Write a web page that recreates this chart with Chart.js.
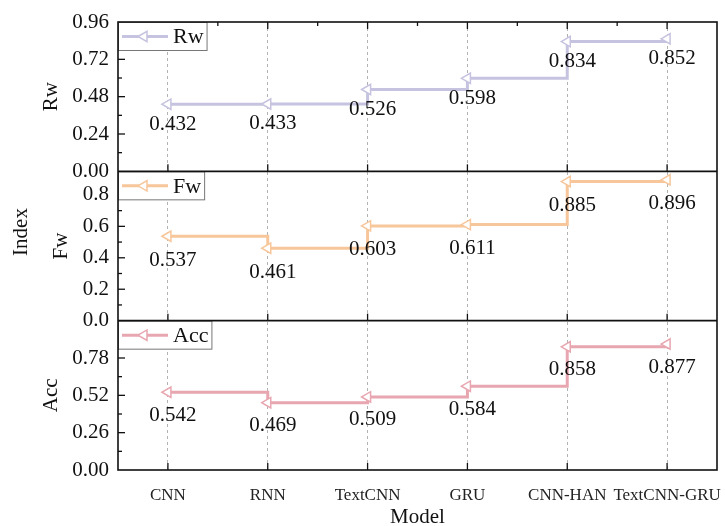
<!DOCTYPE html>
<html>
<head>
<meta charset="utf-8">
<script src="https://cdn.jsdelivr.net/npm/chart.js@4/dist/chart.umd.min.js"></script>
<style>
html,body{margin:0;padding:0;background:#fff;}
#wrap{width:725px;height:526px;}
</style>
</head>
<body>
<div id="wrap"><canvas id="c" width="725" height="526"></canvas></div>
<script>
// ---- data ----
const categories = ['CNN', 'RNN', 'TextCNN', 'GRU', 'CNN-HAN', 'TextCNN-GRU'];
const rwValues  = [0.432, 0.433, 0.526, 0.598, 0.834, 0.852];
const fwValues  = [0.537, 0.461, 0.603, 0.611, 0.885, 0.896];
const accValues = [0.542, 0.469, 0.509, 0.584, 0.858, 0.877];
const rwTicks  = [0, 0.24, 0.48, 0.72, 0.96];
const fwTicks  = [0, 0.2, 0.4, 0.6, 0.8];
const accTicks = [0, 0.26, 0.52, 0.78];
const rwRange  = [0, 0.96];
const fwRange  = [0, 0.95];
const accRange = [0, 1.04];
const xTitle = 'Model';
const yTitle = 'Index';

// ---- styles ----
const SERIF = "'Liberation Serif', 'Times New Roman', serif";
const TEXT = '#111';
const panels = [
  {axis: 'yRw',  label: 'Rw',  values: rwValues,  ticks: rwTicks,  range: rwRange,  dec: 2, color: '#c5c3df', titlePad: 39, labelDy: 20},
  {axis: 'yFw',  label: 'Fw',  values: fwValues,  ticks: fwTicks,  range: fwRange,  dec: 1, color: '#f7c69a', titlePad: 49, labelDy: 24},
  {axis: 'yAcc', label: 'Acc', values: accValues, ticks: accTicks, range: accRange, dec: 2, color: '#e8a6b0', titlePad: 39, labelDy: 23}
];

function yScale(p) {
  return {
    type: 'linear', position: 'left', stack: 'panels', stackWeight: 1,
    min: p.range[0], max: p.range[1],
    afterBuildTicks(s) { s.ticks = p.ticks.map(v => ({value: v})); },
    ticks: {autoSkip: false, padding: 9, color: TEXT, font: {family: SERIF, size: 21},
            callback: v => Number(v).toFixed(p.dec)},
    grid: {display: false, drawTicks: false},
    border: {display: false},
    title: {display: true, text: p.label, color: TEXT, font: {family: SERIF, size: 21},
            padding: {top: p.titlePad, bottom: 0}},
    afterFit(s) { s.width = 118; s.paddingTop = 0; s.paddingBottom = 0; }
  };
}

const datasets = panels.map(p => ({
  label: p.label, data: p.values, yAxisID: p.axis,
  stepped: 'before', fill: false, tension: 0,
  borderColor: p.color, borderWidth: 3,
  pointStyle: 'triangle', pointRotation: -90, pointRadius: 6, pointHoverRadius: 6,
  pointBackgroundColor: '#ffffff', pointBorderColor: p.color, pointBorderWidth: 1.5
}));

function seg(ctx, x1, y1, x2, y2) { ctx.beginPath(); ctx.moveTo(x1, y1); ctx.lineTo(x2, y2); ctx.stroke(); }

function leftTri(ctx, x, y, r) {
  ctx.beginPath();
  ctx.moveTo(x - r, y);
  ctx.lineTo(x + r / 2, y - r * 0.866);
  ctx.lineTo(x + r / 2, y + r * 0.866);
  ctx.closePath();
}

const panelPlugin = {
  id: 'panelDecor',
  afterDatasetsDraw(chart) {
    const ctx = chart.ctx, ca = chart.chartArea, xs = chart.scales.x;
    const n = categories.length;
    ctx.save();
    // data labels
    ctx.fillStyle = TEXT;
    ctx.font = '21px ' + SERIF;
    ctx.textAlign = 'center';
    ctx.textBaseline = 'middle';
    panels.forEach((p, di) => {
      const meta = chart.getDatasetMeta(di);
      meta.data.forEach((pt, j) => {
        ctx.fillText(p.values[j].toFixed(3), pt.x + 5, pt.y + p.labelDy);
      });
    });
    // inward tick marks
    ctx.strokeStyle = '#111';
    ctx.lineWidth = 1.3;
    panels.forEach(p => {
      const s = chart.scales[p.axis];
      const step = p.ticks[1] - p.ticks[0];
      p.ticks.forEach(v => {
        if (v > s.min && v < s.max) { const y = s.getPixelForValue(v); seg(ctx, ca.left, y, ca.left + 7, y); }
        const m = v + step / 2;
        if (m < s.max) { const y = s.getPixelForValue(m); seg(ctx, ca.left, y, ca.left + 4, y); }
      });
      for (let i = 0; i < n; i++) { const x = xs.getPixelForValue(i); seg(ctx, x, s.bottom, x, s.bottom - 7); }
    });
    const top = chart.scales[panels[0].axis].top;
    for (let i = 0; i < n; i++) {
      const x = xs.getPixelForValue(i);
      seg(ctx, x, top, x, top + 7);
      if (i < n - 1) { const m = xs.getPixelForValue(i + 0.5); seg(ctx, m, top, m, top + 4); }
    }
    // legends
    panels.forEach(p => {
      const s = chart.scales[p.axis];
      ctx.font = '22px ' + SERIF;
      const tw = ctx.measureText(p.label).width;
      const bx = ca.left, by = s.top, bw = 55 + tw + 4, bh = 29;
      ctx.fillStyle = '#fff';
      ctx.fillRect(bx, by, bw, bh);
      ctx.strokeStyle = '#777';
      ctx.lineWidth = 1;
      ctx.strokeRect(bx + 0.5, by + 0.5, bw - 1, bh - 1);
      const cy = by + bh / 2;
      ctx.strokeStyle = p.color;
      ctx.lineWidth = 3;
      seg(ctx, bx + 4, cy, bx + 50, cy);
      leftTri(ctx, bx + 26, cy, 6);
      ctx.fillStyle = '#fff';
      ctx.fill();
      ctx.lineWidth = 1.5;
      ctx.stroke();
      ctx.fillStyle = TEXT;
      ctx.textAlign = 'left';
      ctx.textBaseline = 'middle';
      ctx.fillText(p.label, bx + 55, cy + 1);
    });
    // frame and separators
    ctx.strokeStyle = '#111';
    ctx.lineWidth = 1.6;
    ctx.strokeRect(ca.left, ca.top, ca.right - ca.left, ca.bottom - ca.top);
    panels.slice(1).forEach(p => {
      const y = chart.scales[p.axis].top;
      seg(ctx, ca.left, y, ca.right, y);
    });
    // shared y title
    ctx.fillStyle = TEXT;
    ctx.font = '21px ' + SERIF;
    ctx.textAlign = 'center';
    ctx.textBaseline = 'middle';
    ctx.translate(21, (ca.top + ca.bottom) / 2 - 14);
    ctx.rotate(-Math.PI / 2);
    ctx.fillText(yTitle, 0, 0);
    ctx.restore();
  }
};

const scales = {
  x: {
    type: 'category', labels: categories, offset: true,
    grid: {display: true, offset: false, drawTicks: false, color: 'rgba(0,0,0,0.38)', lineWidth: 0.8},
    border: {display: false, dash: [3, 3]},
    ticks: {autoSkip: false, maxRotation: 0, minRotation: 0, padding: 15, color: '#222',
            font: {family: SERIF, size: 17}},
    title: {display: true, text: xTitle, color: TEXT, font: {family: SERIF, size: 21},
            padding: {top: 0, bottom: -4}},
    afterFit(s) { s.height = 56; s.paddingLeft = 0; s.paddingRight = 0; }
  }
};
// later-defined stacked axes are placed on top
scales.yAcc = yScale(panels[2]);
scales.yFw = yScale(panels[1]);
scales.yRw = yScale(panels[0]);

new Chart(document.getElementById('c'), {
  type: 'line',
  data: {labels: categories, datasets},
  options: {
    responsive: false, animation: false, devicePixelRatio: 1,
    layout: {padding: {top: 22, right: 8, left: 0, bottom: 0}},
    plugins: {legend: {display: false}, tooltip: {enabled: false}, title: {display: false}},
    scales
  },
  plugins: [panelPlugin]
});
</script>
</body>
</html>
